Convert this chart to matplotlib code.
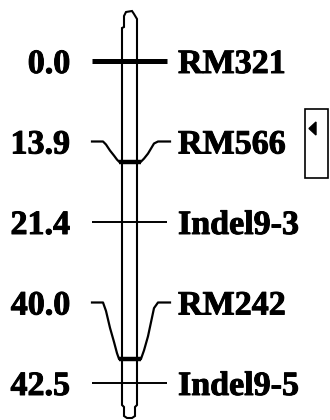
import numpy as np
import matplotlib.pyplot as plt
import matplotlib.patheffects as pe
from matplotlib.patches import Rectangle, Polygon, PathPatch
from matplotlib.path import Path

# linkage map data
markers = ['RM321', 'RM566', 'Indel9-3', 'RM242', 'Indel9-5']
positions = ['0.0', '13.9', '21.4', '40.0', '42.5']
# where the marker meets the chromosome, in label rows (same row = straight tick)
anchor_rows = [0, 1.25, 2, 3.7, 4]
thick = [True, False, False, False, False]

fig = plt.figure(figsize=(3.3, 4.2), dpi=100)
ax = fig.add_axes([0, 0, 1, 1])
ax.set_xlim(0, 330)
ax.set_ylim(420, 0)
ax.axis('off')

y0, step = 61, 80.5
rows = np.arange(len(markers))
label_y = y0 + step * rows
anchor_y = y0 + step * np.array(anchor_rows)

# chromosome body
cl, cr = 122, 137
verts = [(cl, 405), (cl, 28), (124, 27), (124, 16), (126, 12), (132, 11),
         (134, 14), (cr, 19), (cr, 405), (cr - 2, 407), (135, 416), (132, 418),
         (127, 418), (124, 416), (124, 407), (cl, 405)]
codes = [Path.MOVETO] + [Path.LINETO] * (len(verts) - 2) + [Path.CLOSEPOLY]
ax.add_patch(PathPatch(Path(verts, codes), facecolor='white', edgecolor='black', lw=1.5, zorder=1))

serif = dict(family='Liberation Serif', weight='bold', size=24.5, color='black',
             path_effects=[pe.withStroke(linewidth=0.7, foreground='black')])

for i, name in enumerate(markers):
    ly, ay = label_y[i], anchor_y[i]
    if ly == ay:
        ax.plot([92, 167], [ly, ly], color='black', lw=3.6 if thick[i] else 1.4,
                solid_capstyle='butt', zorder=3)
    else:
        d = ay - ly
        # left connector, stepped down to the chromosome
        lx = [92, 103, 106, 110, 114, 117, 119]
        lyy = ly + d * np.array([0, 0, 0.15, 0.45, 0.7, 0.9, 1.0])
        rx = [141, 144, 148, 151, 154, 158, 170]
        ryy = ly + d * np.array([1.0, 0.85, 0.6, 0.35, 0.1, 0, 0])
        if d > 100:
            lx = [92, 102, 106, 111, 116, 120]
            lyy = ly + d * np.array([0, 0, 0.25, 0.55, 0.82, 1.0])
            rx = [140, 143, 147, 151, 155, 160, 172]
            ryy = ly + d * np.array([1.0, 0.75, 0.5, 0.35, 0.15, 0, 0])
        ax.plot(lx, lyy, color='black', lw=1.6, zorder=3)
        ax.plot(rx, ryy, color='black', lw=1.6, zorder=3)
        ax.plot([119, 141], [ay, ay], color='black', lw=3.2, solid_capstyle='butt', zorder=3)
    ax.text(178, ly + 12, name, ha='left', va='baseline', **serif)
    ax.text(70, ly + 12, positions[i], ha='right', va='baseline', **serif)

# small legend box at right
ax.add_patch(Rectangle((305, 109), 23, 69, facecolor='white', edgecolor='black', lw=1.2))
ax.add_patch(Polygon([(309, 128.5), (316, 122), (316, 135)], closed=True,
                     facecolor='black', edgecolor='black'))

fig.savefig('out.png', dpi=100)
